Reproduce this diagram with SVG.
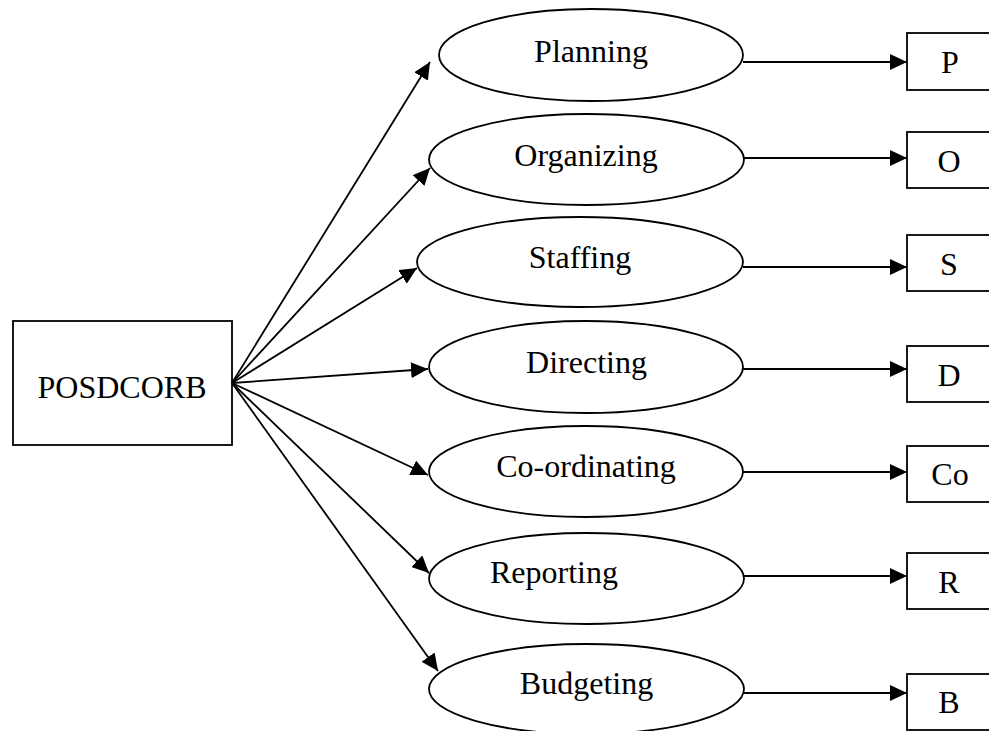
<svg xmlns="http://www.w3.org/2000/svg" width="989" height="731" viewBox="0 0 989 731">
  <style>
    .shape { fill: #fff; stroke: #000; stroke-width: 1.8; }
    .link { fill: none; stroke: #000; stroke-width: 1.8; }
    .label { font-family: "Liberation Serif", "Times New Roman", serif; font-size: 32px; fill: #000; text-anchor: middle; }
  </style>
  <defs>
    <marker id="arrow" markerUnits="userSpaceOnUse" markerWidth="17" markerHeight="16" refX="17" refY="8" orient="auto">
      <path d="M0,0 L17,8 L0,16 z" fill="#000"/>
    </marker>
  </defs>
  <rect width="989" height="731" fill="#fff"/>

  <!-- root box -->
  <g id="posdcorb">
    <rect class="shape" x="13" y="321" width="219" height="124"/>
    <text class="label" x="122" y="398">POSDCORB</text>
  </g>

  <!-- function ellipses -->
  <g id="planning">
    <ellipse class="shape" cx="591" cy="55" rx="152" ry="46"/>
    <text class="label" x="591" y="62">Planning</text>
  </g>
  <g id="organizing">
    <ellipse class="shape" cx="586.5" cy="159.5" rx="157.5" ry="45.5"/>
    <text class="label" x="586" y="166">Organizing</text>
  </g>
  <g id="staffing">
    <ellipse class="shape" cx="580" cy="262" rx="163" ry="45"/>
    <text class="label" x="580" y="268">Staffing</text>
  </g>
  <g id="directing">
    <ellipse class="shape" cx="586" cy="367" rx="157" ry="46"/>
    <text class="label" x="586.5" y="373">Directing</text>
  </g>
  <g id="coordinating">
    <ellipse class="shape" cx="586" cy="471.5" rx="157" ry="45.5"/>
    <text class="label" x="586" y="477">Co-ordinating</text>
  </g>
  <g id="reporting">
    <ellipse class="shape" cx="586.5" cy="578.5" rx="157.5" ry="45.5"/>
    <text class="label" x="554" y="583">Reporting</text>
  </g>
  <g id="budgeting">
    <ellipse class="shape" cx="586.5" cy="689" rx="157.5" ry="45"/>
    <text class="label" x="586.5" y="694">Budgeting</text>
  </g>

  <!-- letter boxes -->
  <g id="p">
    <rect class="shape" x="907" y="33" width="90" height="57"/>
    <text class="label" x="950" y="73">P</text>
  </g>
  <g id="o">
    <rect class="shape" x="907" y="132" width="90" height="56"/>
    <text class="label" x="949" y="172">O</text>
  </g>
  <g id="s">
    <rect class="shape" x="907" y="235" width="90" height="56"/>
    <text class="label" x="949" y="275">S</text>
  </g>
  <g id="d">
    <rect class="shape" x="907" y="346" width="90" height="56"/>
    <text class="label" x="949" y="386">D</text>
  </g>
  <g id="co">
    <rect class="shape" x="907" y="446" width="90" height="56"/>
    <text class="label" x="950" y="485">Co</text>
  </g>
  <g id="r">
    <rect class="shape" x="907" y="553" width="90" height="56"/>
    <text class="label" x="949" y="593">R</text>
  </g>
  <g id="b">
    <rect class="shape" x="907" y="674" width="90" height="56"/>
    <text class="label" x="949" y="713">B</text>
  </g>

  <!-- connectors -->
  <g id="connectors">
    <line class="link" marker-end="url(#arrow)" x1="232" y1="383" x2="430" y2="62"/>
    <line class="link" marker-end="url(#arrow)" x1="232" y1="383" x2="430" y2="168"/>
    <line class="link" marker-end="url(#arrow)" x1="232" y1="383" x2="417" y2="268"/>
    <line class="link" marker-end="url(#arrow)" x1="232" y1="383" x2="428" y2="369"/>
    <line class="link" marker-end="url(#arrow)" x1="232" y1="383" x2="428" y2="475"/>
    <line class="link" marker-end="url(#arrow)" x1="232" y1="383" x2="429" y2="573"/>
    <line class="link" marker-end="url(#arrow)" x1="232" y1="383" x2="438" y2="671"/>

    <line class="link" marker-end="url(#arrow)" x1="743" y1="62" x2="907" y2="62"/>
    <line class="link" marker-end="url(#arrow)" x1="744" y1="158" x2="907" y2="158"/>
    <line class="link" marker-end="url(#arrow)" x1="743" y1="267" x2="907" y2="267"/>
    <line class="link" marker-end="url(#arrow)" x1="743" y1="369" x2="907" y2="369"/>
    <line class="link" marker-end="url(#arrow)" x1="743" y1="472" x2="907" y2="472"/>
    <line class="link" marker-end="url(#arrow)" x1="744" y1="576" x2="907" y2="576"/>
    <line class="link" marker-end="url(#arrow)" x1="744" y1="693" x2="907" y2="693"/>
  </g>
</svg>
